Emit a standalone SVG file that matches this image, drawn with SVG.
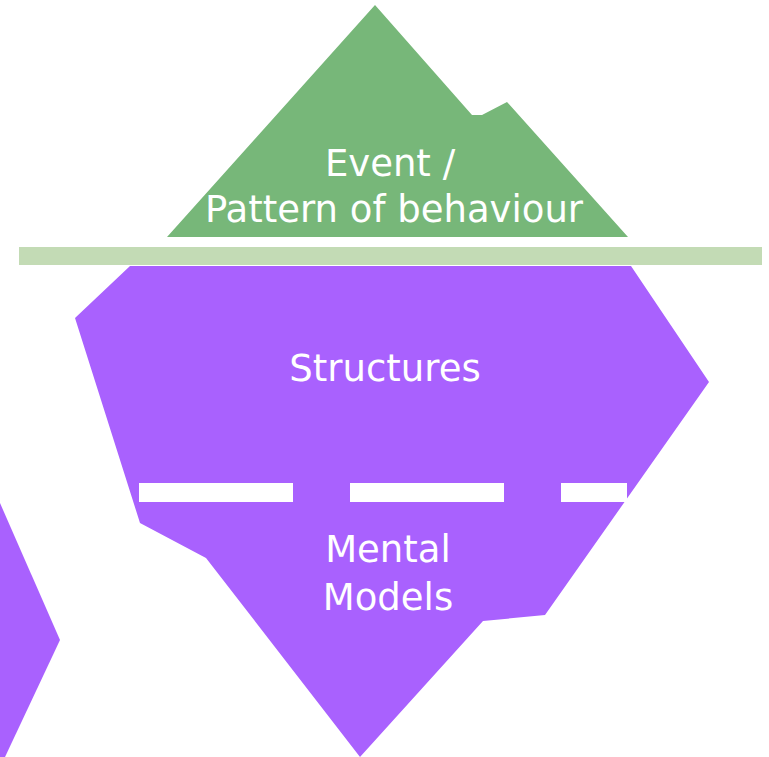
<svg xmlns="http://www.w3.org/2000/svg" width="769" height="757" viewBox="0 0 769 757">
<style>
.lbl{font-family:"DejaVu Sans","Noto Sans",sans-serif;font-size:37px;fill:#ffffff;text-anchor:middle}
.ice{fill:#a961fe}
.dash{fill:#ffffff}
</style>
<rect width="769" height="757" fill="#ffffff"/>
<g id="tip">
<polygon points="375,5 472,115 482,115 507,102 628,237 167,237" fill="#77b779"/>
<text class="lbl" x="390" y="176">Event /</text>
<text class="lbl" x="394" y="222">Pattern of behaviour</text>
</g>
<g id="waterline">
<rect x="19" y="247" width="743" height="18" fill="#c3dbb5"/>
</g>
<g id="berg">
<polygon class="ice" points="130,266 631,266 709,382 545,615 483,621 360,757 206,558 140,523 75,318"/>
<text class="lbl" x="385" y="381">Structures</text>
</g>
<g id="divider">
<rect class="dash" x="139" y="483" width="154" height="19"/>
<rect class="dash" x="350" y="483" width="154" height="19"/>
<rect class="dash" x="561" y="483" width="66" height="19"/>
</g>
<g id="mental">
<text class="lbl" x="388" y="562">Mental</text>
<text class="lbl" x="388" y="610">Models</text>
</g>
<g id="side-berg">
<polygon class="ice" points="0,503 60,640 5,757 0,757"/>
</g>
</svg>
